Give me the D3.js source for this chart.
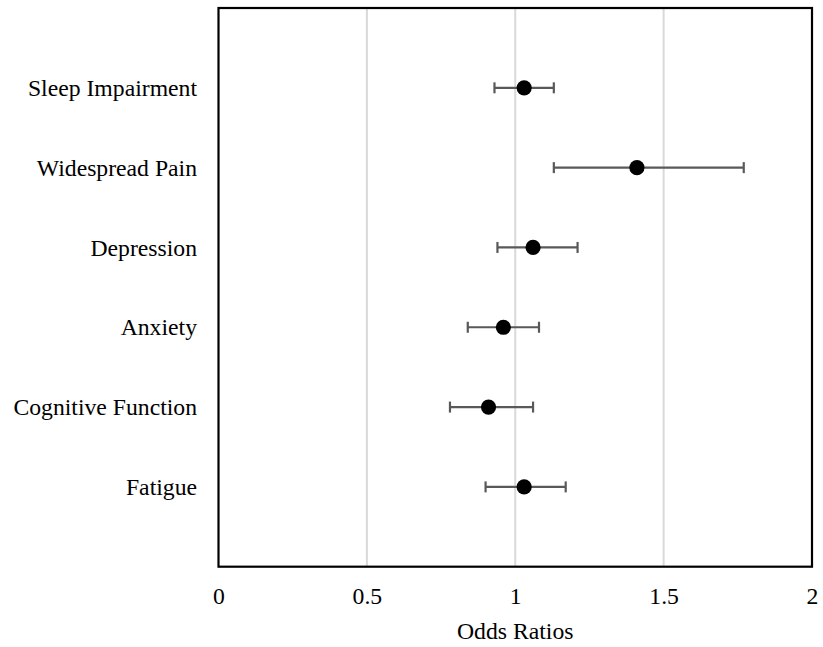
<!DOCTYPE html>
<html><head><meta charset="utf-8">
<script src="https://cdn.jsdelivr.net/npm/d3@7"></script>
<style>body{margin:0;background:#fff}svg{display:block}
svg text{font-family:"Liberation Serif","Times New Roman",Tinos,"DejaVu Serif",serif !important;}</style>
</head><body><svg id="c" width="823" height="647"></svg>
<script>
const categories = ["Sleep Impairment","Widespread Pain","Depression","Anxiety","Cognitive Function","Fatigue"];
const oddsRatios = [1.03, 1.41, 1.06, 0.96, 0.91, 1.03];
const ciLower = [0.93, 1.13, 0.94, 0.84, 0.78, 0.90];
const ciUpper = [1.13, 1.77, 1.21, 1.08, 1.06, 1.17];
const xTicks = [0, 0.5, 1, 1.5, 2];

const svg = d3.select("#c");
const L = 218.5, R = 812, T = 8, B = 566.7;
const FS = 23.7;
const x = d3.scaleLinear().domain([0, 2]).range([L, R]);
const y = d3.scalePoint().domain(["", ...categories, " "]).range([T, B]);

// gridlines
svg.append("g").selectAll("line").data(xTicks.filter(d => d > 0 && d < 2)).join("line")
  .attr("x1", d => x(d)).attr("x2", d => x(d)).attr("y1", T).attr("y2", B)
  .attr("stroke", "#d9d9d9").attr("stroke-width", 2);

// x axis tick labels
const xAxis = d3.axisBottom(x).tickValues(xTicks).tickFormat(d3.format("")).tickSize(0).tickPadding(20.5);
const gx = svg.append("g").attr("transform", `translate(0,${B})`).call(xAxis);
gx.select(".domain").remove();
gx.attr("font-size", FS);
gx.selectAll("text").attr("fill", "#000");

// y axis labels
const yAxis = d3.axisLeft(y).tickValues(categories).tickSize(0).tickPadding(21.5);
const gy = svg.append("g").attr("transform", `translate(${L},0)`).call(yAxis);
gy.select(".domain").remove();
gy.attr("font-size", FS);
gy.selectAll("text").attr("fill", "#000");

// error bars
const eb = svg.append("g").attr("stroke", "#595959").attr("stroke-width", 2.2);
categories.forEach((c, i) => {
  const yy = y(c);
  eb.append("line").attr("x1", x(ciLower[i])).attr("x2", x(ciUpper[i])).attr("y1", yy).attr("y2", yy);
  eb.append("line").attr("x1", x(ciLower[i])).attr("x2", x(ciLower[i])).attr("y1", yy - 5.5).attr("y2", yy + 5.5);
  eb.append("line").attr("x1", x(ciUpper[i])).attr("x2", x(ciUpper[i])).attr("y1", yy - 5.5).attr("y2", yy + 5.5);
});

// points
svg.append("g").selectAll("circle").data(categories).join("circle")
  .attr("cx", (d, i) => x(oddsRatios[i])).attr("cy", d => y(d)).attr("r", 7.6).attr("fill", "#000");

// frame
svg.append("rect").attr("x", L).attr("y", T).attr("width", R - L).attr("height", B - T)
  .attr("fill", "none").attr("stroke", "#000").attr("stroke-width", 2.2);

// axis title
svg.append("text").attr("x", (L + R) / 2).attr("y", 639).attr("text-anchor", "middle")
  .attr("font-size", FS).text("Odds Ratios");
</script></body></html>
